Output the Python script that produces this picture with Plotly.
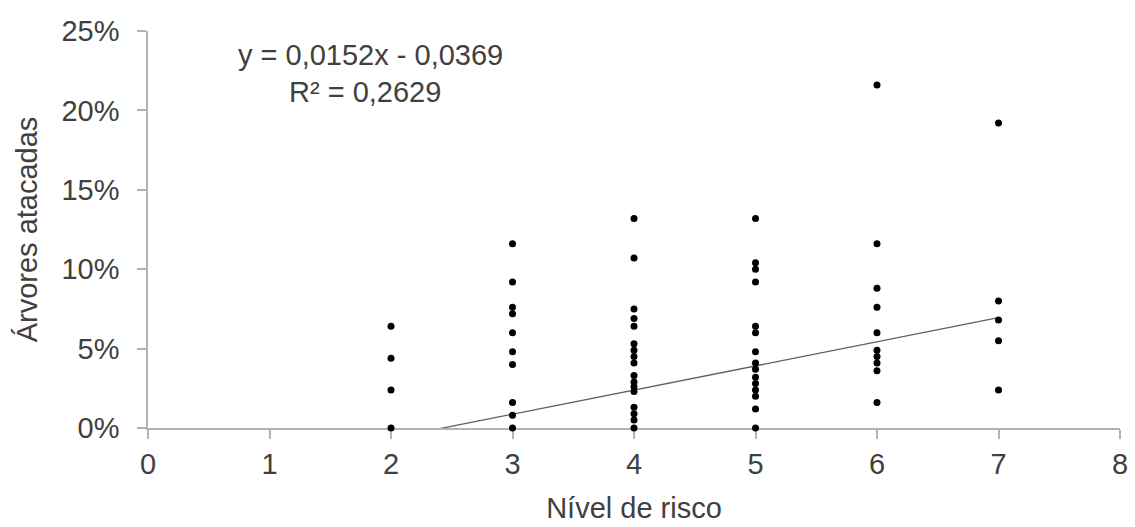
import plotly.graph_objects as go

# Data (percent of attacked trees by risk level)
level_2 = [6.4, 4.4, 2.4, 0.0]
level_3 = [11.6, 9.2, 7.6, 7.2, 6.0, 4.8, 4.0, 1.6, 0.8, 0.0]
level_4 = [13.2, 10.7, 7.5, 6.9, 6.4, 5.3, 4.9, 4.5, 4.1, 3.3, 2.9, 2.6, 2.3, 1.3, 0.9, 0.5, 0.0]
level_5 = [13.2, 10.4, 10.0, 9.2, 6.4, 6.0, 4.8, 4.1, 3.7, 3.2, 2.8, 2.4, 2.0, 1.2, 0.0]
level_6 = [21.6, 11.6, 8.8, 7.6, 6.0, 4.9, 4.5, 4.1, 3.6, 1.6]
level_7 = [19.2, 8.0, 6.8, 5.5, 2.4]

levels = [2, 3, 4, 5, 6, 7]
series = [level_2, level_3, level_4, level_5, level_6, level_7]

slope = 0.0152
intercept = -0.0369
r2_text = "0,2629"
trend_x = [2, 7]

xs, ys = [], []
for lv, vals in zip(levels, series):
    for v in vals:
        xs.append(lv)
        ys.append(v / 100.0)

trend_y = [slope * x + intercept for x in trend_x]

FONT = "Liberation Sans, Arial, sans-serif"
TXT = "#404040"
FS = 29

W, H = 1135, 527
L, R, T, B = 148, 15, 31, 99
pw, ph = W - L - R, H - T - B


def px_to_paper(px, py):
    return (px - L) / pw, 1 - (py - T) / ph


fig = go.Figure()
fig.add_trace(go.Scatter(
    x=trend_x, y=trend_y, mode="lines",
    line=dict(color="#5f5f5f", width=1.3),
    showlegend=False, hoverinfo="skip",
))
fig.add_trace(go.Scatter(
    x=xs, y=ys, mode="markers",
    marker=dict(color="black", size=7),
    cliponaxis=False, showlegend=False,
))

ax1, ay1 = px_to_paper(370, 55)
ax2, ay2 = px_to_paper(365, 92)
fig.add_annotation(
    x=ax1, y=ay1, xref="paper", yref="paper", showarrow=False,
    xanchor="center", yanchor="middle",
    text="y = 0,0152x - 0,0369", font=dict(family=FONT, size=FS, color=TXT),
)
fig.add_annotation(
    x=ax2, y=ay2, xref="paper", yref="paper", showarrow=False,
    xanchor="center", yanchor="middle",
    text="R² = " + r2_text, font=dict(family=FONT, size=FS, color=TXT),
)

fig.update_layout(
    width=W, height=H,
    margin=dict(l=L, r=R, t=T, b=B, autoexpand=False),
    plot_bgcolor="white", paper_bgcolor="white",
    font=dict(family=FONT, size=FS, color=TXT),
    showlegend=False,
)
fig.update_xaxes(
    range=[0, 8], dtick=1, tick0=0,
    showgrid=False, zeroline=False,
    showline=True, linecolor="#b3b3b3", linewidth=1.5,
    ticks="outside", ticklen=9, tickcolor="#b3b3b3", tickwidth=1.5,
    tickfont=dict(size=FS, color=TXT),
    ticklabelstandoff=0,
    title=dict(text="Nível de risco", font=dict(size=FS, color=TXT), standoff=19),
    layer="below traces",
)
fig.update_yaxes(
    range=[0, 0.25], dtick=0.05, tick0=0, tickformat=".0%",
    showgrid=False, zeroline=False,
    showline=True, linecolor="#b3b3b3", linewidth=1.5,
    ticks="outside", ticklen=9, tickcolor="#b3b3b3", tickwidth=1.5,
    tickfont=dict(size=FS, color=TXT),
    ticklabelstandoff=12,
    title=dict(text="Árvores atacadas", font=dict(size=FS, color=TXT), standoff=15),
    layer="below traces",
)

fig.write_html(
    "out.html",
    config={"displayModeBar": False},
    post_script="document.body.style.margin='0';document.body.style.overflow='hidden';",
)
